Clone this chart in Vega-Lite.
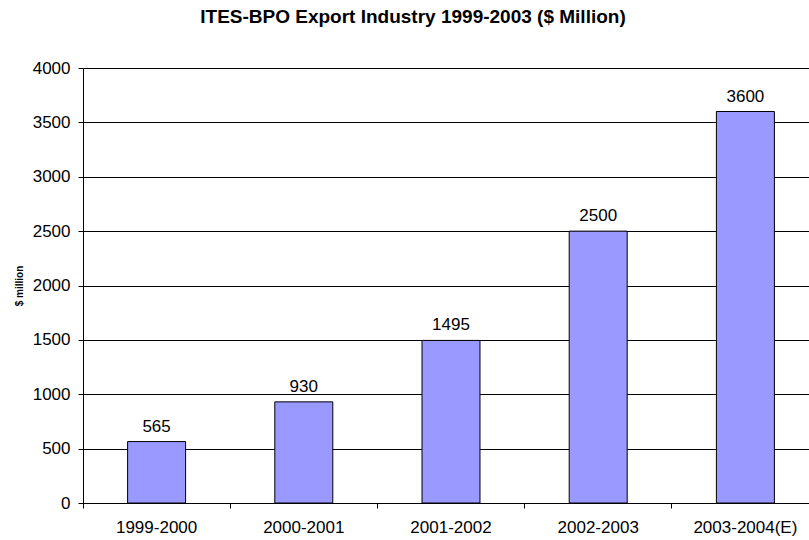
{
  "$schema": "https://vega.github.io/schema/vega-lite/v6.json",
  "width": 726,
  "height": 435,
  "autosize": {"type": "none"},
  "padding": {"left": 83, "top": 68, "right": 0, "bottom": 37},
  "background": "white",
  "title": {
    "text": "ITES-BPO Export Industry 1999-2003 ($ Million)",
    "font": "Liberation Sans",
    "fontSize": 19,
    "fontWeight": "bold",
    "color": "#000",
    "anchor": "middle",
    "offset": 32,
    "dx": -33
  },
  "config": {
    "view": {"stroke": null},
    "font": "Liberation Sans"
  },
  "data": {
    "values": [
      {"year": "1999-2000", "value": 565},
      {"year": "2000-2001", "value": 930},
      {"year": "2001-2002", "value": 1495},
      {"year": "2002-2003", "value": 2500},
      {"year": "2003-2004(E)", "value": 3600}
    ]
  },
  "encoding": {
    "x": {
      "field": "year",
      "type": "nominal",
      "sort": null,
      "scale": {"paddingInner": 0, "paddingOuter": 0, "range": [0, 736]},
      "axis": {
        "title": null,
        "labelAngle": 0,
        "labelFont": "Liberation Sans",
        "labelFontSize": 17,
        "labelColor": "#000",
        "labelPadding": 11,
        "domainColor": "#000",
        "tickColor": "#000",
        "tickSize": 5,
        "bandPosition": 0,
        "grid": false
      }
    },
    "y": {
      "field": "value",
      "type": "quantitative",
      "scale": {"domain": [0, 4000], "nice": false},
      "axis": {
        "title": "$ million",
        "titleFont": "Liberation Sans",
        "titleFontSize": 10,
        "titleFontWeight": "bold",
        "titleColor": "#000",
        "titlePadding": 8,
        "format": "d",
        "values": [0, 500, 1000, 1500, 2000, 2500, 3000, 3500, 4000],
        "labelFont": "Liberation Sans",
        "labelFontSize": 17,
        "labelColor": "#000",
        "labelPadding": 8,
        "domainColor": "#000",
        "tickColor": "#000",
        "tickSize": 5,
        "grid": true,
        "gridColor": "#000",
        "gridOpacity": 1
      }
    }
  },
  "layer": [
    {
      "mark": {"type": "bar", "color": "#9999FF", "stroke": "#000", "strokeWidth": 1, "width": {"band": 0.394}}
    },
    {
      "mark": {"type": "text", "baseline": "alphabetic", "dy": -10, "font": "Liberation Sans", "fontSize": 17, "color": "#000"},
      "encoding": {"text": {"field": "value", "type": "quantitative"}}
    }
  ]
}
